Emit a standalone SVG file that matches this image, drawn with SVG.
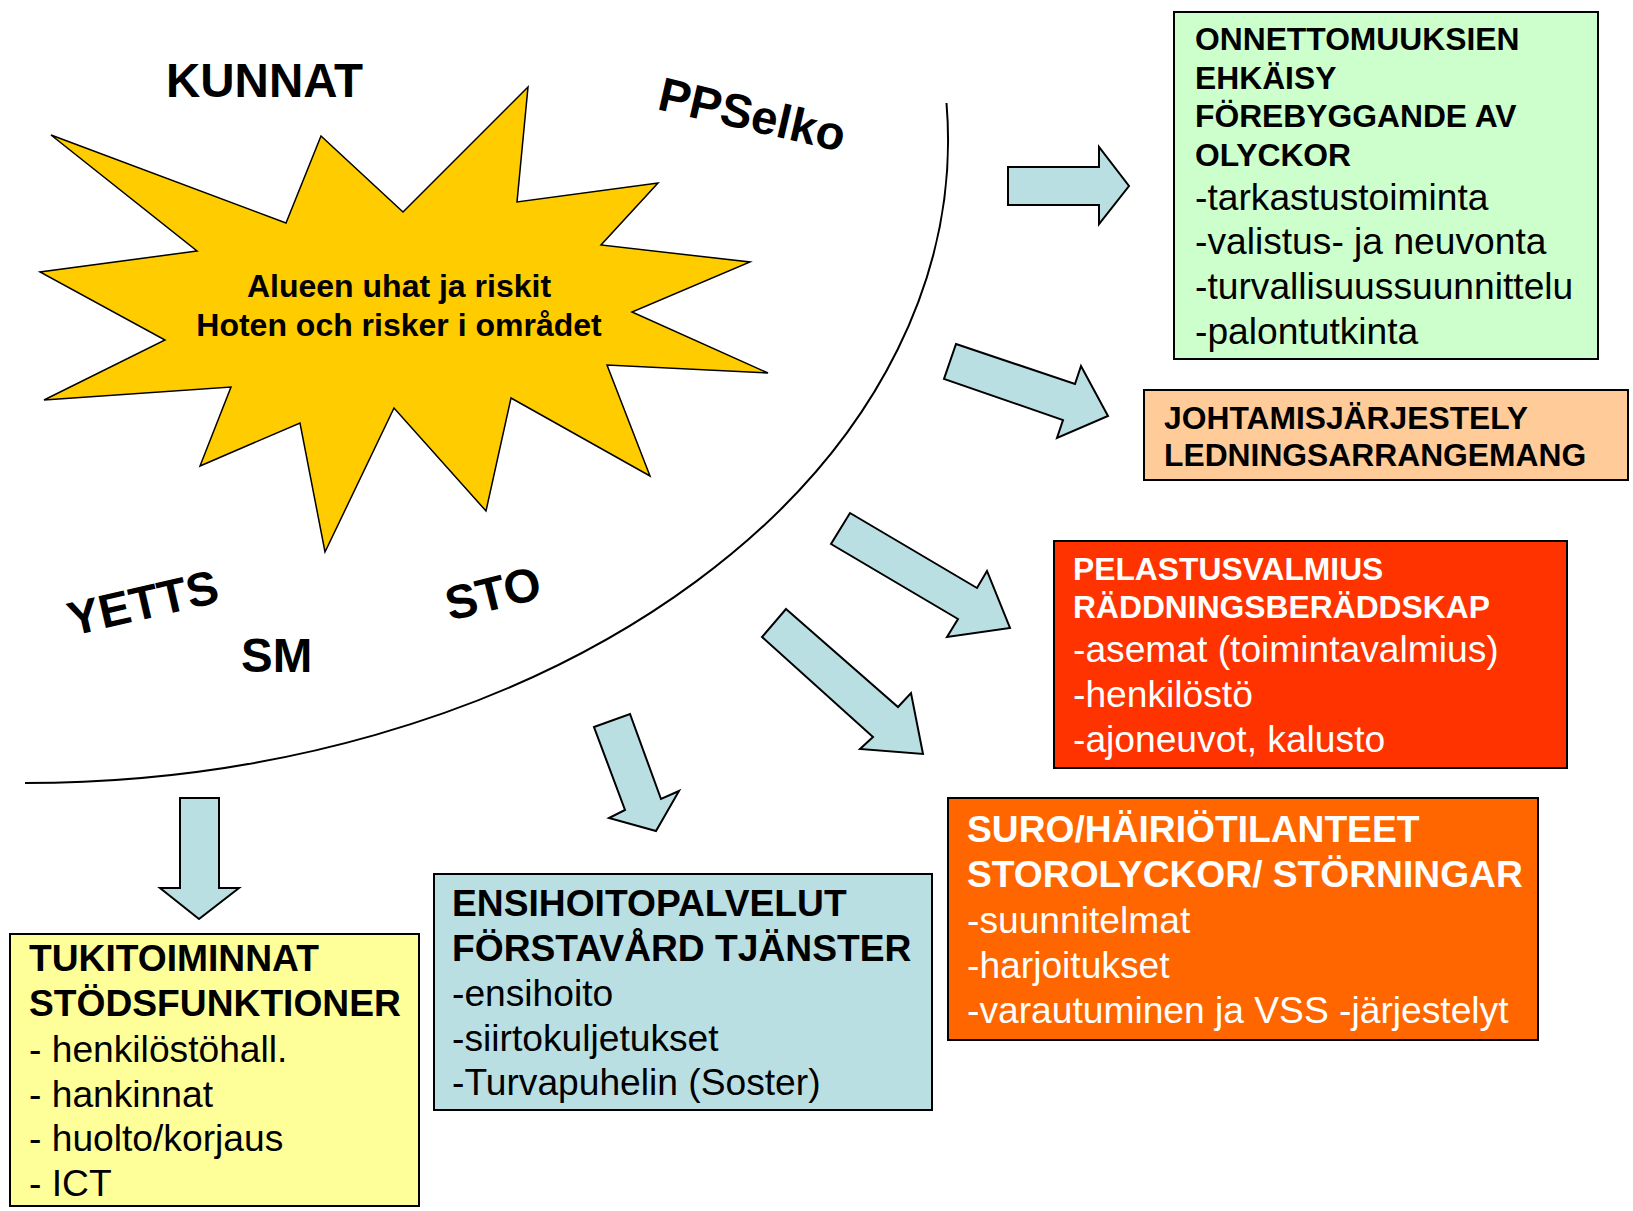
<svg xmlns="http://www.w3.org/2000/svg" width="1633" height="1211" viewBox="0 0 1633 1211">
<style>
  text { font-family: "Liberation Sans", Arial, sans-serif; }
  .lbl { font-size: 47.5px; font-weight: bold; fill: #000; }
  .b31 { font-size: 31.8px; font-weight: bold; }
  .b37 { font-size: 37.2px; font-weight: bold; }
  .r37 { font-size: 37.2px; }
  .box { stroke: #000; stroke-width: 2; }
  .arrow { fill: #B9DFE3; stroke: #000; stroke-width: 2; stroke-linejoin: miter; }
  .wt { fill: #fff; }
  .bk { fill: #000; }
</style>
<rect width="1633" height="1211" fill="#fff"/>

<g id="boundary">
  <path d="M 946.5 103 A 923 643 0 0 1 25 783" fill="none" stroke="#000" stroke-width="2"/>
</g>

<g id="star">
  <polygon points="51,135 286,223 321,136 403,212 528,87 517,202 658,183 601,245 750,262 632,312 768,373 607,365 650,476 511,398 486,511 394,408 325,552 300,423 200,466 231,387 44,400 165,340 40,272 197,251" fill="#FFCC00" stroke="#000" stroke-width="1.5"/>
  <text x="399" y="297" text-anchor="middle" font-size="32" font-weight="bold" class="bk">Alueen uhat ja riskit</text>
  <text x="399" y="335.5" text-anchor="middle" font-size="32" font-weight="bold" class="bk">Hoten och risker i området</text>
</g>

<g id="labels">
  <text id="kunnat" class="lbl" x="166" y="97">KUNNAT</text>
  <text id="ppselko" class="lbl" transform="translate(656,109) rotate(13)">PPSelko</text>
  <text id="yetts" class="lbl" transform="translate(72,636) rotate(-13)">YETTS</text>
  <text id="sm" class="lbl" x="241" y="672">SM</text>
  <text id="sto" class="lbl" transform="translate(450,621) rotate(-14)">STO</text>
</g>

<g id="connectors">
  <polygon class="arrow" points="1008,167 1099,167 1099,147 1129,186 1099,224 1099,205 1008,205"/>
  <polygon class="arrow" points="956,344 1075,384 1081,366 1108,416 1057,438 1063,420 944,379"/>
  <polygon class="arrow" points="850,513 977,588 987,571 1010,628 947,637 958,619 831,544"/>
  <polygon class="arrow" points="786,609 898,707 911,693 923,754 860,749 873,737 762,637"/>
  <polygon class="arrow" points="594,727 630,714 661,799 679,791 656,831 609,818 625,810"/>
  <polygon class="arrow" points="180,798 219,798 219,888 239,888 199,919 160,888 180,888"/>
</g>

<g id="ehkaisy">
  <rect class="box" x="1174" y="12" width="424" height="347" fill="#CCFFCC"/>
  <text class="b31 bk" x="1195" y="50">ONNETTOMUUKSIEN</text>
  <text class="b31 bk" x="1195" y="89">EHKÄISY</text>
  <text class="b31 bk" x="1195" y="127">FÖREBYGGANDE AV</text>
  <text class="b31 bk" x="1195" y="166">OLYCKOR</text>
  <text class="r37 bk" x="1195" y="210">-tarkastustoiminta</text>
  <text class="r37 bk" x="1195" y="254">-valistus- ja neuvonta</text>
  <text class="r37 bk" x="1195" y="299">-turvallisuussuunnittelu</text>
  <text class="r37 bk" x="1195" y="344">-palontutkinta</text>
</g>

<g id="johtamis">
  <rect class="box" x="1144" y="390" width="484" height="90" fill="#FFCC99"/>
  <text class="b31 bk" x="1164" y="429">JOHTAMISJÄRJESTELY</text>
  <text class="b31 bk" x="1164" y="466">LEDNINGSARRANGEMANG</text>
</g>

<g id="pelastusvalmius">
  <rect class="box" x="1054" y="541" width="513" height="227" fill="#FF3300"/>
  <text class="b31 wt" x="1073" y="580">PELASTUSVALMIUS</text>
  <text class="b31 wt" x="1073" y="618">RÄDDNINGSBERÄDDSKAP</text>
  <text class="r37 wt" x="1073" y="662">-asemat (toimintavalmius)</text>
  <text class="r37 wt" x="1073" y="707">-henkilöstö</text>
  <text class="r37 wt" x="1073" y="752">-ajoneuvot, kalusto</text>
</g>

<g id="suro">
  <rect class="box" x="948" y="798" width="590" height="242" fill="#FF6600"/>
  <text class="b37 wt" x="967" y="842">SURO/HÄIRIÖTILANTEET</text>
  <text class="b37 wt" x="967" y="887">STOROLYCKOR/ STÖRNINGAR</text>
  <text class="r37 wt" x="967" y="933">-suunnitelmat</text>
  <text class="r37 wt" x="967" y="978">-harjoitukset</text>
  <text class="r37 wt" x="967" y="1023">-varautuminen ja VSS -järjestelyt</text>
</g>

<g id="ensihoito">
  <rect class="box" x="434" y="874" width="498" height="236" fill="#B9DFE3"/>
  <text class="b37 bk" x="452" y="916">ENSIHOITOPALVELUT</text>
  <text class="b37 bk" x="452" y="960.5">FÖRSTAVÅRD TJÄNSTER</text>
  <text class="r37 bk" x="452" y="1006">-ensihoito</text>
  <text class="r37 bk" x="452" y="1050.5">-siirtokuljetukset</text>
  <text class="r37 bk" x="452" y="1095">-Turvapuhelin (Soster)</text>
</g>

<g id="tukitoiminnat">
  <rect class="box" x="10" y="934" width="409" height="272" fill="#FFFF99"/>
  <text class="b37 bk" x="29" y="971">TUKITOIMINNAT</text>
  <text class="b37 bk" x="29" y="1015.6">STÖDSFUNKTIONER</text>
  <text class="r37 bk" x="29" y="1062">- henkilöstöhall.</text>
  <text class="r37 bk" x="29" y="1106.5">- hankinnat</text>
  <text class="r37 bk" x="29" y="1151">- huolto/korjaus</text>
  <text class="r37 bk" x="29" y="1195.5">- ICT</text>
</g>
</svg>
